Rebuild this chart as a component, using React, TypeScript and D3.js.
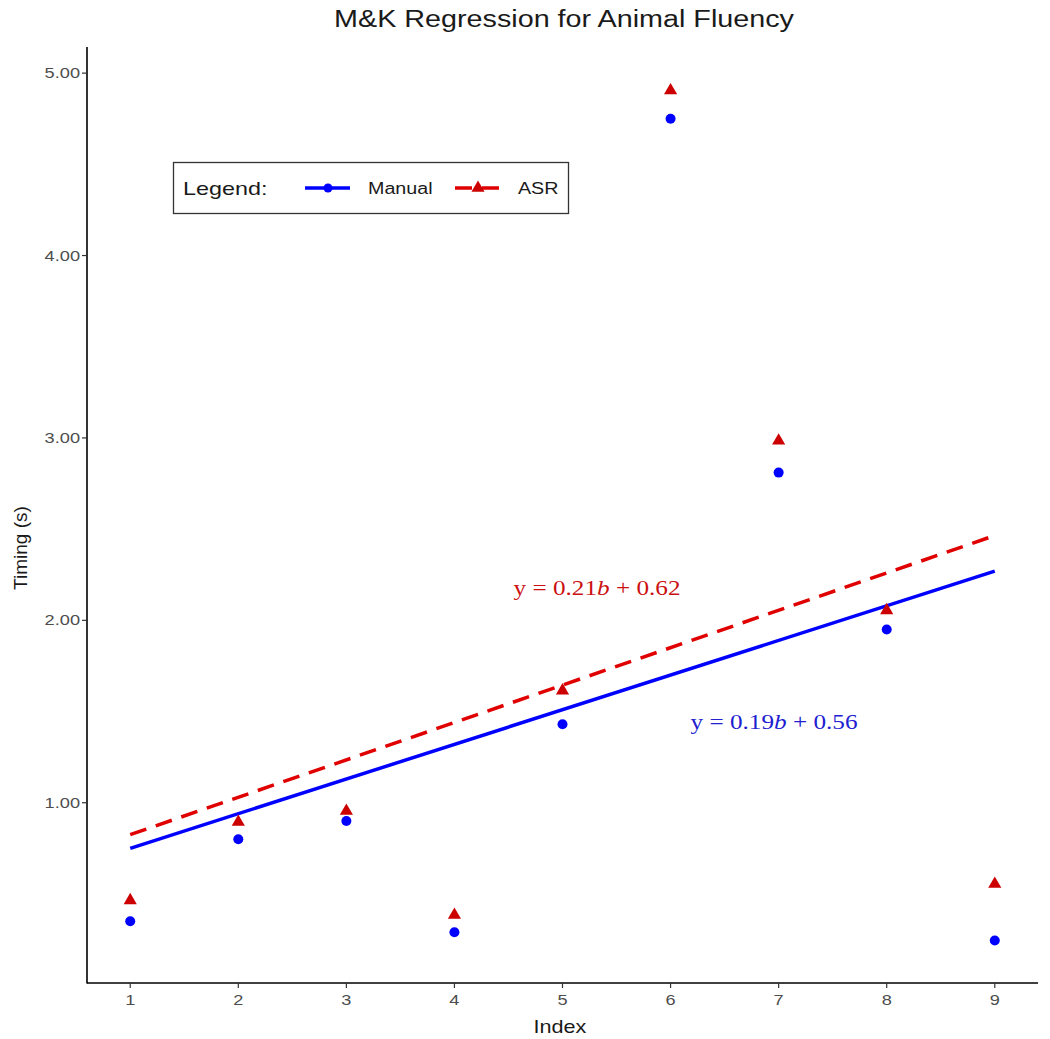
import React from "react";
import * as d3 from "d3";

const indices = [1, 2, 3, 4, 5, 6, 7, 8, 9];
const manualValues = [0.35, 0.8, 0.9, 0.29, 1.43, 4.75, 2.81, 1.95, 0.245];
const asrValues = [0.47, 0.9, 0.96, 0.39, 1.62, 4.91, 2.99, 2.06, 0.56];
const manualFit = { slope: 0.19, intercept: 0.56, label: "0.19", icpt: "0.56" };
const asrFit = { slope: 0.205, intercept: 0.62, label: "0.21", icpt: "0.62" };
const yTicks = [1, 2, 3, 4, 5];
const xTicks = [1, 2, 3, 4, 5, 6, 7, 8, 9];

const BLUE = "#0000ff";
const RED = "#e00000";
const RED_PT = "#cc0000";

const fontSans = "Liberation Sans, Arial, sans-serif";
const fontSerif = "Liberation Serif, Times New Roman, serif";

function SText(props: {
  x: number; y: number; sx?: number; anchor?: string; size: number; fill: string;
  family?: string; children: React.ReactNode;
}) {
  const { x, y, sx = 1.25, anchor = "start", size, fill, family = fontSans, children } = props;
  return (
    <text
      transform={`translate(${x},${y}) scale(${sx},1)`}
      textAnchor={anchor}
      fontFamily={family}
      fontSize={size}
      fill={fill}
    >
      {children}
    </text>
  );
}

export default function App() {
  const W = 1050, H = 1039;
  const left = 87, right = 1038, top = 47, bottom = 983;
  const allY = [...manualValues, ...asrValues];
  const yMin = d3.min(allY)!, yMax = d3.max(allY)!;
  const yPad = (yMax - yMin) * 0.05;
  const x = d3.scaleLinear().domain([0.6, 9.4]).range([left, right]);
  const y = d3.scaleLinear().domain([yMin - yPad, yMax + yPad]).range([bottom, top]);
  const fitLine = (f: { slope: number; intercept: number }) =>
    d3.line<number>().x((d) => x(d)).y((d) => y(f.slope * d + f.intercept))([1, 9]) || "";
  const tri = d3.symbol().type(d3.symbolTriangle).size(75)() || "";

  return (
    <svg width={W} height={H} style={{ position: "absolute", left: 0, top: 0, background: "#fff" }}>
      <rect x={0} y={0} width={W} height={H} fill="#fff" />
      <SText x={564} y={27} anchor="middle" size={23} fill="#1a1a1a" sx={1.25}>
        M&amp;K Regression for Animal Fluency
      </SText>
      {/* fit lines */}
      <path d={fitLine(asrFit)} stroke={RED} strokeWidth={3.5} fill="none" strokeDasharray="17 10" />
      <path d={fitLine(manualFit)} stroke={BLUE} strokeWidth={3.5} fill="none" />
      {/* points */}
      {indices.map((d, i) => (
        <circle key={"m" + i} cx={x(d)} cy={y(manualValues[i])} r={5} fill={BLUE} />
      ))}
      {indices.map((d, i) => (
        <path key={"a" + i} d={tri} transform={`translate(${x(d)},${y(asrValues[i]) + 1})`} fill={RED_PT} />
      ))}
      {/* equation labels */}
      <SText x={597} y={595} anchor="middle" family={fontSerif} size={21} fill="#cc1010" sx={1.2}>
        y = {asrFit.label}<tspan fontStyle="italic">b</tspan> + {asrFit.icpt}
      </SText>
      <SText x={774} y={729} anchor="middle" family={fontSerif} size={21} fill="#2020d0" sx={1.2}>
        y = {manualFit.label}<tspan fontStyle="italic">b</tspan> + {manualFit.icpt}
      </SText>
      {/* axes */}
      <line x1={left} x2={left} y1={top} y2={bottom + 0.5} stroke="#000" strokeWidth={1.6} />
      <line x1={left} x2={right} y1={bottom} y2={bottom} stroke="#000" strokeWidth={1.6} />
      {yTicks.map((t) => (
        <g key={"y" + t}>
          <line x1={left - 5} x2={left} y1={y(t)} y2={y(t)} stroke="#333" strokeWidth={1.2} />
          <SText x={left - 7} y={y(t) + 5} anchor="end" size={14} fill="#4d4d4d" sx={1.3}>
            {t.toFixed(2)}
          </SText>
        </g>
      ))}
      {xTicks.map((t) => (
        <g key={"x" + t}>
          <line x1={x(t)} x2={x(t)} y1={bottom} y2={bottom + 5} stroke="#333" strokeWidth={1.2} />
          <SText x={x(t)} y={bottom + 22} anchor="middle" size={14} fill="#4d4d4d" sx={1.3}>
            {t}
          </SText>
        </g>
      ))}
      <SText x={560} y={1033} anchor="middle" size={18} fill="#1a1a1a" sx={1.2}>
        Index
      </SText>
      <text transform="translate(27,548) rotate(-90)" textAnchor="middle" fontFamily={fontSans} fontSize={19} fill="#1a1a1a">
        Timing (s)
      </text>
      {/* legend */}
      <rect x={173.5} y={162.5} width={395} height={51} fill="#fff" stroke="#333" strokeWidth={1.3} />
      <SText x={183} y={195} size={19} fill="#1a1a1a" sx={1.23}>Legend:</SText>
      <path d="M305,188L350,188" stroke={BLUE} strokeWidth={3.5} />
      <circle cx={328} cy={188} r={4.5} fill={BLUE} />
      <SText x={368} y={194} size={16} fill="#1a1a1a" sx={1.23}>Manual</SText>
      <path d="M455,188L500,188" stroke={RED} strokeWidth={3.5} strokeDasharray="17 10" />
      <path d={tri} transform="translate(478,188)" fill={RED_PT} />
      <SText x={518} y={194} size={16} fill="#1a1a1a" sx={1.23}>ASR</SText>
    </svg>
  );
}
